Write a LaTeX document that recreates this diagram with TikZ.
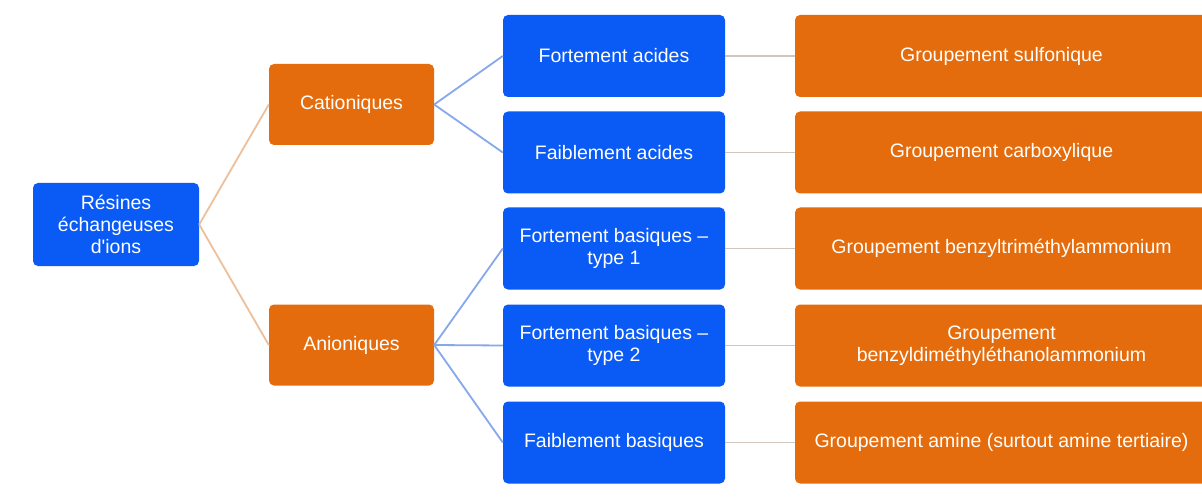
\documentclass[tikz,border=0pt]{standalone}
\usepackage{fontspec}
\setmainfont{Liberation Sans}
\definecolor{bfill}{RGB}{10,90,245}
\definecolor{ofill}{RGB}{228,108,12}
\definecolor{lorange}{RGB}{236,192,155}
\definecolor{lblue}{RGB}{135,168,235}
\definecolor{lgrey}{RGB}{208,198,188}
\begin{document}
\begin{tikzpicture}[x=1pt,y=-1pt,
  box/.style={rounded corners=5pt, text=white, font=\fontsize{19.5}{22}\selectfont, align=center, inner sep=0pt},
  bluebox/.style={box, fill=bfill},
  orangebox/.style={box, fill=ofill},
  lvlone/.style={minimum width=165pt, minimum height=81pt},
  lvltwo/.style={minimum width=222pt, minimum height=82pt},
  lvlthree/.style={minimum width=413pt, minimum height=82pt},
  conA/.style={draw=lorange, line width=1.8pt},
  conB/.style={draw=lblue, line width=1.8pt},
  conC/.style={draw=lgrey, line width=1.8pt}]
\useasboundingbox (0,0) rectangle (1202,497);
\fill[white] (0,0) rectangle (1202,497);
\clip (0,0) rectangle (1202,497);

\node[bluebox, minimum width=166pt, minimum height=83pt] (root) at (116,224.5) {Résines\\échangeuses\\d\textquotesingle ions};

\node[orangebox, lvlone] (cat) at (351.5,104.5) {Cationiques};
\node[orangebox, lvlone] (ani) at (351.5,345) {Anioniques};

\node[bluebox, lvltwo] (fa) at (614,56) {Fortement acides};
\node[bluebox, lvltwo] (fba) at (614,152.5) {Faiblement acides};
\node[bluebox, lvltwo] (fb1) at (614,248.5) {Fortement basiques –\\type 1};
\node[bluebox, lvltwo] (fb2) at (614,345.5) {Fortement basiques –\\type 2};
\node[bluebox, lvltwo] (fbb) at (614,442.5) {Faiblement basiques};

\node[orangebox, lvlthree] (g1) at (1001.5,56) {Groupement sulfonique};
\node[orangebox, lvlthree] (g2) at (1001.5,152.5) {Groupement carboxylique};
\node[orangebox, lvlthree] (g3) at (1001.5,248.5) {Groupement benzyltriméthylammonium};
\node[orangebox, lvlthree] (g4) at (1001.5,345.5) {Groupement\\benzyldiméthyléthanolammonium};
\node[orangebox, lvlthree] (g5) at (1001.5,442.5) {Groupement amine (surtout amine tertiaire)};

\draw[conA] (root.east) -- (cat.west);
\draw[conA] (root.east) -- (ani.west);

\draw[conB] (cat.east) -- (fa.west);
\draw[conB] (cat.east) -- (fba.west);
\draw[conB] (ani.east) -- (fb1.west);
\draw[conB] (ani.east) -- (fb2.west);
\draw[conB] (ani.east) -- (fbb.west);

\draw[conC] (fa.east) -- (g1.west);
\draw[conC] (fba.east) -- (g2.west);
\draw[conC] (fb1.east) -- (g3.west);
\draw[conC] (fb2.east) -- (g4.west);
\draw[conC] (fbb.east) -- (g5.west);
\end{tikzpicture}
\end{document}
